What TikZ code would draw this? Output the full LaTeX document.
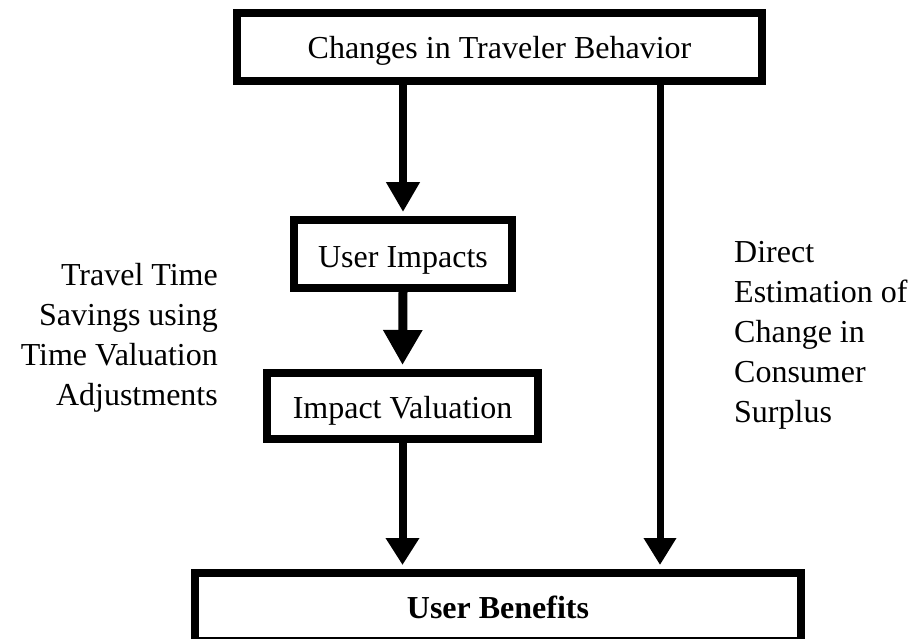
\documentclass[tikz,border=0pt]{standalone}
\usepackage{fontspec}
\setmainfont{Liberation Serif}
\usetikzlibrary{arrows.meta}
\begin{document}
\begin{tikzpicture}[x=1pt,y=-1pt,
  box/.style={draw=black, line width=8pt, fill=white, rectangle, inner sep=0pt,
    text height=24pt, text depth=0pt,
    font=\fontsize{32}{40}\selectfont},
  flow/.style={line width=8pt, shorten >=4pt},
  label/.style={font=\fontsize{32}{40}\selectfont, inner sep=0pt}]
  \clip (0,0) rectangle (911,638);
  \fill[white] (0,0) rectangle (911,638);

  % process boxes
  \node[box, minimum width=525pt, minimum height=68pt, text height=22pt] (top) at (499.5,47) {Changes in Traveler Behavior};
  \node[box, minimum width=218pt, minimum height=68pt, text height=26pt] (ui) at (403,254) {User Impacts};
  \node[box, minimum width=271pt, minimum height=66pt] (iv) at (402.5,406) {Impact Valuation};
  \node[box, minimum width=606pt, minimum height=68pt, text height=22pt] (ub) at (498,607) {\bfseries User Benefits};

  % side annotations
  \node[label, align=right, anchor=east] (tt) at (218,337.5) {Travel Time\\Savings using\\Time Valuation\\Adjustments};
  \node[label, align=left, anchor=west] (dc) at (734,335) {Direct\\Estimation of\\Change in\\Consumer\\Surplus};

  % connectors
  \draw[flow, -{Triangle[length=30pt,width=32pt]}] (top.south -| ui.north) -- (ui.north);
  \draw[flow, line width=9pt, -{Triangle[length=35pt,width=37pt]}] (ui.south) -- (iv.north);
  \draw[flow, -{Triangle[length=27pt,width=32pt]}] (iv.south) -- (iv.south |- ub.north);
  \draw[flow, line width=7pt, -{Triangle[length=27pt,width=31pt]}] ([xshift=160.5pt]top.south) -- ([xshift=160.5pt]top.south |- ub.north);
\end{tikzpicture}
\end{document}
